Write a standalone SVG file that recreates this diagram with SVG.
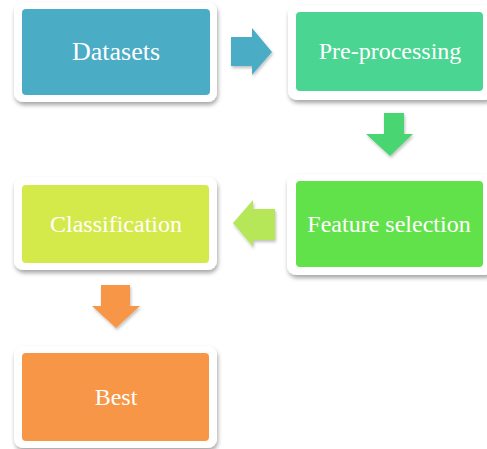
<svg xmlns="http://www.w3.org/2000/svg" width="487" height="449" viewBox="0 0 487 449">
<defs>
<filter id="sh" x="-10%" y="-10%" width="125%" height="130%">
<feDropShadow dx="1" dy="3" stdDeviation="2" flood-color="#000" flood-opacity="0.35"/>
</filter>
<filter id="ash" x="-20%" y="-20%" width="150%" height="150%">
<feDropShadow dx="1" dy="2" stdDeviation="1.5" flood-color="#000" flood-opacity="0.25"/>
</filter>
</defs>
<style>
.frame{fill:#ffffff;filter:url(#sh)}
.lbl{font-family:"Liberation Serif","Times New Roman",serif;font-size:24px;fill:#ffffff;text-anchor:middle}
</style>
<rect width="487" height="449" fill="#ffffff"/>
<g id="connectors">
<polygon points="231,37 252,37 252,28 272,52 252,75 252,66 231,66" fill="#4BACC6" filter="url(#ash)"/>
<polygon points="384,113 404,113 404,134 413,134 390,156 366,134 384,134" fill="#4AD572" filter="url(#ash)"/>
<polygon points="275,209 253,209 253,200 233,223 253,247 253,240 275,240" fill="#B5E759" filter="url(#ash)"/>
<polygon points="101,285 130,285 130,306 140,306 116,328 92,306 101,306" fill="#F79646" filter="url(#ash)"/>
</g>
<g id="datasets">
<rect class="frame" x="14" y="2" width="203" height="100" rx="9"/>
<rect x="22" y="9" width="188" height="86" rx="4" fill="#4BACC6"/>
<text class="lbl" x="116" y="60" style="font-size:26px">Datasets</text>
</g>
<g id="preprocessing">
<rect class="frame" x="288" y="5" width="206" height="95" rx="9"/>
<rect x="296" y="12" width="187" height="79" rx="4" fill="#4AD592"/>
<text class="lbl" x="390" y="59">Pre-processing</text>
</g>
<g id="featureselection">
<rect class="frame" x="287" y="174" width="207" height="101" rx="9"/>
<rect x="296" y="181" width="187" height="86" rx="4" fill="#62E24A"/>
<text class="lbl" x="389" y="232">Feature selection</text>
</g>
<g id="classification">
<rect class="frame" x="14" y="177" width="203" height="93" rx="9"/>
<rect x="22" y="185" width="187" height="78" rx="4" fill="#D4EA4A"/>
<text class="lbl" x="116" y="232">Classification</text>
</g>
<g id="best">
<rect class="frame" x="14" y="346" width="203" height="102" rx="9"/>
<rect x="22" y="353" width="187" height="88" rx="4" fill="#F79646"/>
<text class="lbl" x="116" y="405">Best</text>
</g>
</svg>
